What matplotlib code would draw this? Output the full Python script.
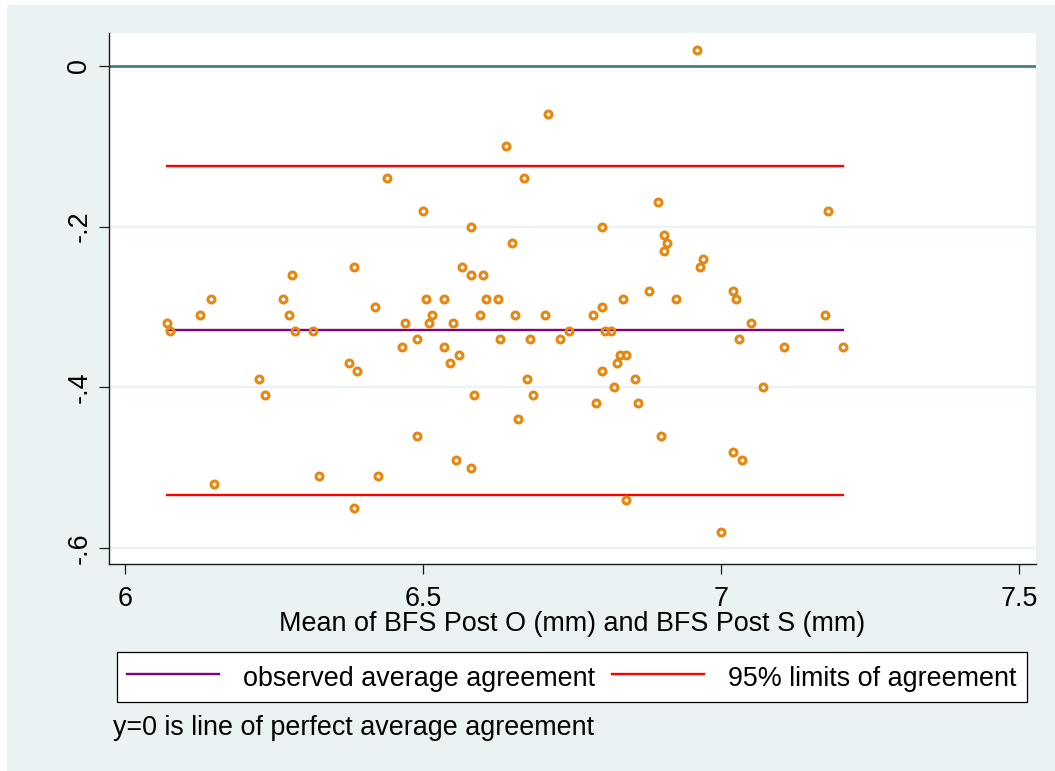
import matplotlib
matplotlib.use("Agg")
import matplotlib.pyplot as plt
from matplotlib.lines import Line2D
from matplotlib.patches import Rectangle

# Bland-Altman data: mean of the two BFS measurements and their difference
mean_bfs = [
    6.070, 6.075, 6.125, 6.145, 6.150, 6.225, 6.235, 6.265, 6.280, 6.275,
    6.285, 6.315, 6.325, 6.385, 6.375, 6.390, 6.385, 6.420, 6.425, 6.470,
    6.465, 6.490, 6.490, 6.505, 6.515, 6.510, 6.440, 6.500, 6.580, 6.640,
    6.710, 6.670, 6.650, 6.800, 6.895, 6.905, 6.910, 6.905, 6.565, 6.580,
    6.600, 6.535, 6.605, 6.625, 6.550, 6.595, 6.655, 6.705, 6.785, 6.800,
    6.835, 6.880, 6.925, 6.630, 6.680, 6.730, 6.745, 6.805, 6.815, 6.535,
    6.560, 6.545, 6.830, 6.840, 6.825, 6.800, 6.675, 6.855, 6.820, 6.585,
    6.685, 6.790, 6.860, 6.660, 6.900, 6.555, 6.580, 6.840, 6.960, 7.180,
    6.970, 6.965, 7.020, 7.025, 7.175, 7.050, 7.030, 7.105, 7.205, 7.070,
    7.020, 7.035, 7.000,
]
diff_bfs = [
    -0.32, -0.33, -0.31, -0.29, -0.52, -0.39, -0.41, -0.29, -0.26, -0.31,
    -0.33, -0.33, -0.51, -0.25, -0.37, -0.38, -0.55, -0.30, -0.51, -0.32,
    -0.35, -0.34, -0.46, -0.29, -0.31, -0.32, -0.14, -0.18, -0.20, -0.10,
    -0.06, -0.14, -0.22, -0.20, -0.17, -0.21, -0.22, -0.23, -0.25, -0.26,
    -0.26, -0.29, -0.29, -0.29, -0.32, -0.31, -0.31, -0.31, -0.31, -0.30,
    -0.29, -0.28, -0.29, -0.34, -0.34, -0.34, -0.33, -0.33, -0.33, -0.35,
    -0.36, -0.37, -0.36, -0.36, -0.37, -0.38, -0.39, -0.39, -0.40, -0.41,
    -0.41, -0.42, -0.42, -0.44, -0.46, -0.49, -0.50, -0.54, 0.02, -0.18,
    -0.24, -0.25, -0.28, -0.29, -0.31, -0.32, -0.34, -0.35, -0.35, -0.40,
    -0.48, -0.49, -0.58,
]
avg_agreement = -0.329
limits_agreement = [-0.534, -0.125]

xticks = [6, 6.5, 7, 7.5]
xtick_labels = ["6", "6.5", "7", "7.5"]
yticks = [0, -0.2, -0.4, -0.6]
ytick_labels = ["0", "-.2", "-.4", "-.6"]

x_title = "Mean of BFS Post O (mm) and BFS Post S (mm)"
legend_labels = ["observed average agreement", "95% limits of agreement"]
note_text = "y=0 is line of perfect average agreement"

BG = "#EAF2F3"
PURPLE = "#800080"
RED = "#FF0000"
ZERO = "#3F7B6F"
ORANGE = "#E8870E"
AXC = "#1a1a1a"
FS = 19.4

plt.rcParams["font.family"] = ["Liberation Sans", "DejaVu Sans"]

W, H = 1055, 771
fig = plt.figure(figsize=(W / 100, H / 100), dpi=100, facecolor="white")
fig.patches.append(Rectangle((7 / W, 0), 1, 1 - 5 / H, transform=fig.transFigure,
                             facecolor=BG, edgecolor="none", zorder=-10))

left, right, top, bottom = 108.5, 1036, 32.7, 564
ax = fig.add_axes([left / W, 1 - bottom / H, (right - left) / W, (bottom - top) / H])
ax.set_facecolor("white")
ax.set_xlim(5.9723, 7.5285)
ax.set_ylim(-0.6199, 0.0413)

ax.set_axisbelow(True)
ax.yaxis.grid(True, color=BG, lw=1.6)
ax.xaxis.grid(False)

for s in ("top", "right"):
    ax.spines[s].set_visible(False)
for s in ("left", "bottom"):
    ax.spines[s].set_color(AXC)
    ax.spines[s].set_linewidth(1.0)

ax.set_xticks(xticks)
ax.set_xticklabels(xtick_labels)
ax.set_yticks(yticks)
ax.set_yticklabels(ytick_labels, rotation=90, va="center")
ax.tick_params(axis="both", direction="out", length=7.2, width=0.9, color=AXC,
               labelsize=FS, labelcolor="black")
ax.tick_params(axis="x", pad=8.5)
ax.tick_params(axis="y", pad=4.5)

ax.set_xlabel(x_title, fontsize=FS)
ax.xaxis.set_label_coords(0.5, -0.0894)

# line of perfect agreement
ax.axhline(0, color=ZERO, lw=1.9, zorder=2)

xmin, xmax = min(mean_bfs), max(mean_bfs)
ax.plot([xmin, xmax], [avg_agreement, avg_agreement], color=PURPLE, lw=1.7, zorder=3)
for lim in limits_agreement:
    ax.plot([xmin, xmax], [lim, lim], color=RED, lw=1.7, zorder=3)

ax.plot(mean_bfs, diff_bfs, linestyle="none", marker="o", ms=5.0, mfc="none",
        mec=ORANGE, mew=2.2, zorder=4)

handles = [Line2D([], [], color=PURPLE, lw=1.7), Line2D([], [], color=RED, lw=1.7)]
leg = fig.legend(handles, legend_labels, loc="center",
                 bbox_to_anchor=(572 / W, 1 - 677 / H), ncol=2, fontsize=FS,
                 frameon=True, fancybox=False, edgecolor="black", framealpha=1,
                 handlelength=3.4, handleheight=1.25, handletextpad=0.9,
                 columnspacing=0.62, borderpad=0.4)
leg.get_frame().set_linewidth(0.9)

fig.text(113 / W, 1 - 728 / H, note_text, fontsize=FS, ha="left", va="center")

fig.savefig("out.png", dpi=100, facecolor=fig.get_facecolor())
